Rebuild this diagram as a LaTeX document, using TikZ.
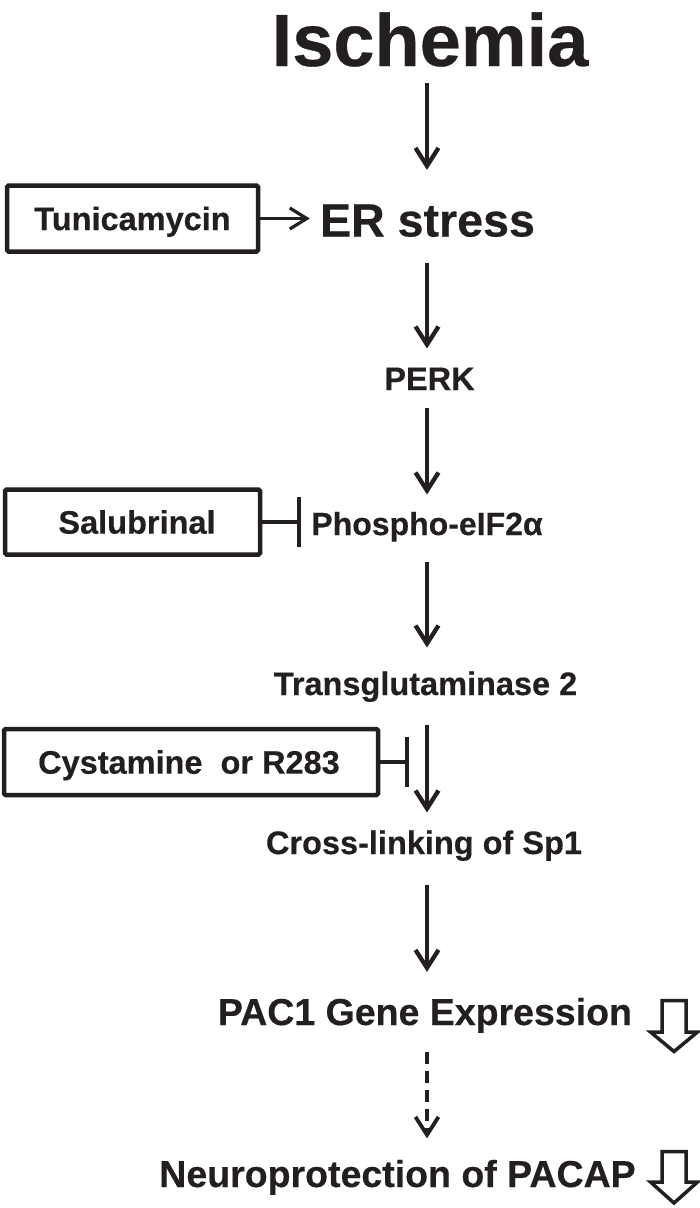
\documentclass[tikz,border=0pt]{standalone}
\usepackage{fontspec}
\setmainfont{Liberation Sans}[BoldFeatures={FakeBold=0.4}]
\usetikzlibrary{arrows.meta}
\definecolor{ink}{HTML}{231F20}
\begin{document}
\begin{tikzpicture}[x=1pt,y=-1pt, color=ink,
  smalltxt/.style={inner sep=0pt, anchor=base, font=\bfseries\fontsize{32.5}{39}\selectfont, text height=23.3pt, text depth=0pt},
  midtxt/.style={inner sep=0pt, anchor=base, font=\bfseries\fontsize{37.5}{45}\selectfont, text height=26.9pt, text depth=0pt},
  agentbox/.style={draw, line width=4.5pt, rounded corners=1.5pt, inner sep=0pt, font=\bfseries\fontsize{32.5}{39}\selectfont, text height=23.3pt, text depth=0pt},
  arr/.style={line width=4.3pt, -{Straight Barb[length=18pt,width=23pt]}},
  sidearr/.style={line width=3.2pt, -{Straight Barb[length=17pt,width=21pt]}},
  inh/.style={line width=4pt, -{Bar[width=50pt]}},
  hollow/.style={line width=3.5pt, line join=miter}
]
\useasboundingbox (0,0) rectangle (700,1208);
\coordinate (col) at (427,0);

% main column
\node[inner sep=0pt, anchor=base, font=\bfseries\fontsize{74}{88}\selectfont, text height=53pt, text depth=0pt] (isch) at (430,66) {Ischemia};
\node[inner sep=0pt, anchor=base, font=\bfseries\fontsize{46.6}{56}\selectfont, text height=33.4pt, text depth=0pt] (er) at (427.5,236.5) {ER stress};
\node[smalltxt] (perk) at (429.5,390) {PERK};
\node[smalltxt, font=\bfseries\fontsize{32}{39}\selectfont] (phos) at (427,535) {Phospho-eIF2α};
\node[smalltxt] (trans) at (425.5,695) {Transglutaminase 2};
\node[smalltxt] (cross) at (424,854) {Cross-linking of Sp1};
\node[midtxt] (pac) at (425,1025) {PAC1 Gene Expression};
\node[midtxt] (neuro) at (397.5,1187) {Neuroprotection of PACAP};

% agent boxes
\node[agentbox, minimum width=251pt, minimum height=66pt] (tuni) at (132.5,218.5) {Tunicamycin};
\node[agentbox, minimum width=255pt, minimum height=65pt] (salu) at (132.5,522) {\kern9pt Salubrinal};
\node[agentbox, minimum width=374pt, minimum height=66pt] (cyst) at (191,762) {\kern-4pt Cystamine\ \ or R283};
\coordinate (cbar) at (409,762);

% main arrows
\draw[arr, shorten <=17pt, shorten >=33pt] (isch.south -| col) -- (er.north -| col);
\draw[arr, shorten <=26.5pt, shorten >=18pt] (er.south -| col) -- (perk.north -| col);
\draw[arr, shorten <=18pt, shorten >=17pt] (perk.south -| col) -- (phos.north -| col);
\draw[arr, shorten <=27pt, shorten >=24pt] (phos.south -| col) -- (trans.north -| col);
\draw[arr, shorten <=30pt, shorten >=18pt] (trans.south -| col) -- (cross.north -| col);
\draw[arr, shorten <=31pt, shorten >=26pt] (cross.south -| col) -- (pac.north -| col);
\draw[arr, line width=3.8pt, dash pattern=on 12pt off 7pt, shorten <=27pt, shorten >=21.5pt] (pac.south -| col) -- (neuro.north -| col);

% side connectors
\draw[sidearr, shorten >=10pt] (tuni.east) -- (tuni.east -| er.west);
\draw[inh, shorten >=10pt] (salu.east) -- (salu.east -| phos.west);
\draw[inh] (cyst.east) -- (cbar);

% hollow down arrows
\draw[hollow] (662,1000.5) -- (686,1000.5) -- (686,1032) -- (697.5,1032) -- (674,1051.5) -- (650.5,1032) -- (662,1032) -- cycle;
\draw[hollow] (662,1151.5) -- (686,1151.5) -- (686,1182) -- (697.5,1182) -- (674,1203) -- (650.5,1182) -- (662,1182) -- cycle;
\end{tikzpicture}
\end{document}
